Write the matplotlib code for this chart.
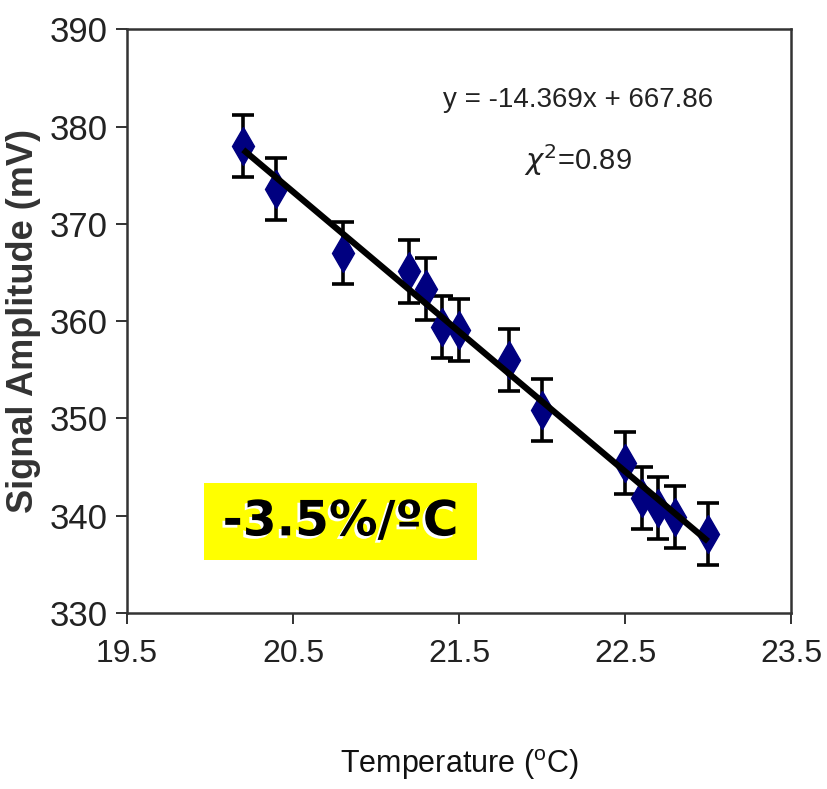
import matplotlib
matplotlib.use("Agg")
import matplotlib.pyplot as plt
import matplotlib.patheffects as pe
from matplotlib.patches import Rectangle
import numpy as np

temperature = [20.2, 20.4, 20.8, 21.2, 21.3, 21.4, 21.5, 21.8, 22.0, 22.5, 22.6, 22.7, 22.8, 23.0]
amplitude = [378.0, 373.6, 367.0, 365.1, 363.3, 359.4, 359.1, 356.0, 350.9, 345.4, 341.8, 340.8, 339.9, 338.1]
amp_err = [3.2] * len(temperature)

# linear fit reported on the chart
fit_slope = -14.369
fit_intercept = 667.86
chi2 = 0.89

x_ticks = [19.5, 20.5, 21.5, 22.5, 23.5]
y_ticks = [330, 340, 350, 360, 370, 380, 390]

plt.rcParams['font.family'] = ['Liberation Sans', 'DejaVu Sans']

fig = plt.figure(figsize=(8.27, 7.89), dpi=100)
ax = fig.add_axes([0.1536, 0.223, 0.8029, 0.740])

ax.errorbar(temperature, amplitude, yerr=amp_err, fmt='d', color='#000080',
            markersize=19, ecolor='black', elinewidth=2.6, capsize=8, capthick=2.6,
            zorder=3)

fit_x = np.array([min(temperature), max(temperature)])
ax.plot(fit_x, fit_slope * fit_x + fit_intercept, color='black', lw=4.5,
        solid_capstyle='butt', zorder=4)

ax.set_xlim(19.5, 23.5)
ax.set_ylim(330, 390)
ax.set_xticks(x_ticks)
ax.set_yticks(y_ticks)
ax.set_xticklabels([f"{t:.1f}" for t in x_ticks])
ax.tick_params(direction='out', length=8, width=1.3, colors='#222222', pad=6)
ax.tick_params(axis='y', labelsize=25)
ax.tick_params(axis='x', labelsize=23, pad=11)
for sp in ax.spines.values():
    sp.set_linewidth(1.8)
    sp.set_color('#333333')

ax.set_ylabel("Signal Amplitude (mV)", fontsize=26, fontweight='bold',
              color='#333333', labelpad=6)
ax.set_xlabel(r"Temperature ($^{\mathregular{o}}$C)", fontsize=22,
              color='#111111', labelpad=56)

ax.text(0.679, 0.878, f"y = {fit_slope}x + {fit_intercept}", transform=ax.transAxes,
        ha='center', va='center', fontsize=20, color='#222222')
ax.text(0.679, 0.776, r"$\chi^{2}$" + f"={chi2}", transform=ax.transAxes,
        ha='center', va='center', fontsize=21, color='#222222')

# highlighted slope annotation
ax.add_patch(Rectangle((0.116, 0.091), 0.411, 0.132, transform=ax.transAxes,
                       facecolor='#ffff00', edgecolor='none', zorder=5))
ax.text(0.3215, 0.157, "-3.5%/ºC", transform=ax.transAxes, ha='center', va='center',
        fontsize=35, fontweight='bold', family='DejaVu Sans', color='black', zorder=6,
        path_effects=[pe.withSimplePatchShadow(offset=(-2, -2), shadow_rgbFace='white',
                                               alpha=1.0)])

fig.savefig("out.png", dpi=100)
